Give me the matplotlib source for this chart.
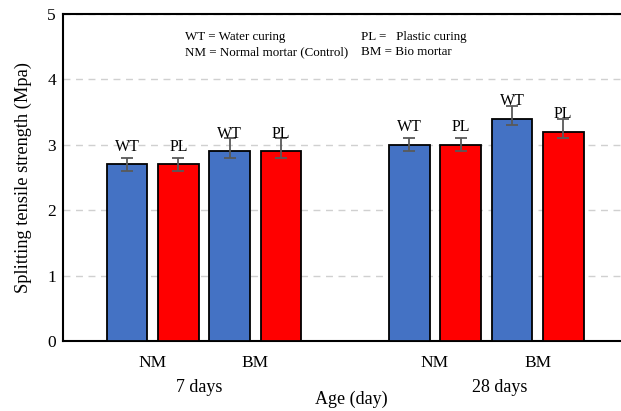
import numpy as np
import matplotlib.pyplot as plt
from matplotlib import transforms

plt.rcParams['font.family'] = ['Liberation Serif', 'DejaVu Serif']

# Splitting tensile strength (MPa)
ages = ['7 days', '28 days']
mixes = ['NM', 'BM']
bar_tags = ['WT', 'PL', 'WT', 'PL', 'WT', 'PL', 'WT', 'PL']
strength = [2.7, 2.7, 2.9, 2.9, 3.0, 3.0, 3.4, 3.2]
err_low = [0.1, 0.1, 0.1, 0.1, 0.1, 0.1, 0.1, 0.1]
err_high = [0.1, 0.1, 0.2, 0.2, 0.1, 0.1, 0.2, 0.2]

blue = '#4472C4'
red = '#FF0000'
colors = [blue, red] * 4

# bar positions: 4 bars per age, gap between the age groups
x = np.array([0, 1, 2, 3, 5.5, 6.5, 7.5, 8.5])

fig = plt.figure(figsize=(6.21, 4.11), dpi=100)
ax = fig.add_axes([63/621, 70/411, 567/621, 327/411])

ax.bar(x, strength, width=0.79, color=colors, edgecolor='black', linewidth=1.3, zorder=3)
ax.errorbar(x, strength, yerr=[err_low, err_high], fmt='none', ecolor='#595959',
            elinewidth=1.3, capsize=4, capthick=1.3, zorder=4)

for xi, v, t in zip(x, strength, bar_tags):
    ax.text(xi, v + 0.27, t, ha='center', va='center', fontsize=11.5, zorder=5)

ax.set_xlim(-1.25, 9.8)
ax.set_ylim(0, 5)
ax.set_yticks([0, 1, 2, 3, 4, 5])
ax.yaxis.grid(True, linestyle=(0, (5, 4)), color='#d0d0d0', linewidth=1, zorder=0)
ax.tick_params(axis='y', length=0, pad=5, labelsize=12.5)

# category ticks (NM / BM) under each group
ax.set_xticks([0.5, 2.5, 6, 8])
ax.set_xticklabels(mixes * 2, fontsize=12.5)
ax.tick_params(axis='x', length=0, pad=10)

trans = transforms.blended_transform_factory(ax.transData, ax.transAxes)
ax.text(1.4, -0.141, ages[0], ha='center', va='center', fontsize=13, transform=trans)
ax.text(7.27, -0.141, ages[1], ha='center', va='center', fontsize=13, transform=trans)

ax.set_xlabel('Age (day)', fontsize=13)
ax.xaxis.set_label_coords(0.508, -0.177)
ax.xaxis.label.set_va('center')
ax.set_ylabel('Splitting tensile strength (Mpa)', fontsize=13.2)
ax.yaxis.label.set_va('center')
ax.yaxis.set_label_coords(-0.07, 0.5)

for s in ['left', 'top', 'bottom']:
    ax.spines[s].set_linewidth(1.5)
    ax.spines[s].set_color('black')
ax.spines['right'].set_visible(False)

# abbreviations key
ax.text(0.215, 0.93, 'WT = Water curing', fontsize=9.4, va='center', transform=ax.transAxes)
ax.text(0.525, 0.93, 'PL =   Plastic curing', fontsize=9.4, va='center', transform=ax.transAxes)
ax.text(0.215, 0.884, 'NM = Normal mortar (Control)', fontsize=9.4, va='center', transform=ax.transAxes)
ax.text(0.525, 0.884, 'BM = Bio mortar', fontsize=9.4, va='center', transform=ax.transAxes)

fig.savefig('out.png', dpi=100)
